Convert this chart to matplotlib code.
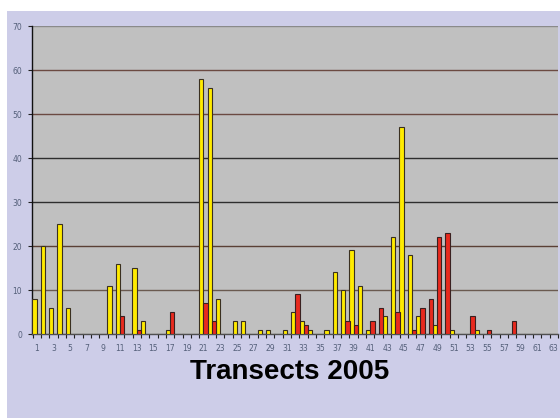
import matplotlib.pyplot as plt
import numpy as np
from matplotlib.patches import Rectangle

# transect numbers 1..63
transects = list(range(1, 64))

# yellow series (one value per transect)
yellow = [8, 20, 6, 25, 6, 0, 0, 0, 0, 11,
          16, 0, 15, 3, 0, 0, 1, 0, 0, 0,
          58, 56, 8, 0, 3, 3, 0, 1, 1, 0,
          1, 5, 3, 1, 0, 1, 14, 10, 19, 11,
          1, 0, 4, 22, 47, 18, 4, 0, 2, 0,
          1, 0, 0, 1, 0, 0, 0, 0, 0, 0,
          0, 0, 0]

# red series
red = [0, 0, 0, 0, 0, 0, 0, 0, 0, 0,
       4, 0, 1, 0, 0, 0, 5, 0, 0, 0,
       7, 3, 0, 0, 0, 0, 0, 0, 0, 0,
       0, 9, 2, 0, 0, 0, 0, 3, 2, 0,
       3, 6, 0, 5, 0, 1, 6, 8, 22, 23,
       0, 0, 4, 0, 1, 0, 0, 3, 0, 0,
       0, 0, 0]

y_ticks = [0, 10, 20, 30, 40, 50, 60, 70]
x_labels = [str(t) for t in transects[::2]]
title = "Transects 2005"

fig = plt.figure(figsize=(5.6, 4.18), dpi=100)
fig.patch.set_facecolor("white")

# lavender panel behind the chart
fig.patches.append(Rectangle((7 / 560, 0), 1, 1 - 11 / 418,
                             transform=fig.transFigure,
                             facecolor="#cdcde8", edgecolor="none",
                             zorder=-10))

ax = fig.add_axes([32 / 560, 1 - 334 / 418, 526 / 560, 308 / 418])
ax.set_zorder(1)
ax.set_facecolor("#c0c0c0")

x = np.arange(1, len(transects) + 1)
w = 0.52
ax.bar(x - w / 2, yellow, width=w, color="#ffeb00",
       edgecolor="#3a3020", linewidth=0.8, zorder=3)
ax.bar(x + w / 2, red, width=w, color="#e82a1e",
       edgecolor="#3a2020", linewidth=0.8, zorder=3)

# gridlines (slightly different tints like the original)
grid_colors = ["#6a5a50", "#5a4035", "#2e2e2e", "#2e2e2e",
               "#6b4a42", "#6b4a42", "#8a8a8a"]
for val, c in zip(y_ticks[1:], grid_colors):
    ax.axhline(val, color=c, linewidth=1.0, zorder=1)

ax.set_xlim(0.44, 63.24)
ax.set_ylim(0, 70)

ax.set_yticks(y_ticks)
ax.set_yticklabels([str(v) for v in y_ticks])
ax.set_xticks(x[::2])
ax.set_xticklabels(x_labels)
ax.set_xticks(np.arange(0.5, 64, 1), minor=True)

ax.tick_params(axis="x", which="major", length=0, pad=7,
               labelsize=5.5, labelcolor="#55607a")
ax.tick_params(axis="x", which="minor", length=3, width=0.8,
               color="#202020", direction="out")
ax.tick_params(axis="y", length=3, width=0.8, color="#202020",
               labelsize=5.5, labelcolor="#55607a", pad=4)

for side in ["top", "right"]:
    ax.spines[side].set_visible(False)
ax.spines["left"].set_color("#101010")
ax.spines["left"].set_linewidth(1.0)
ax.spines["bottom"].set_color("#505050")
ax.spines["bottom"].set_linewidth(1.0)

fig.text(290 / 560, 1 - 372 / 418, title, ha="center", va="center",
         fontsize=20, fontweight="bold", family="Liberation Sans",
         color="black")

fig.savefig("out.png", dpi=100)
